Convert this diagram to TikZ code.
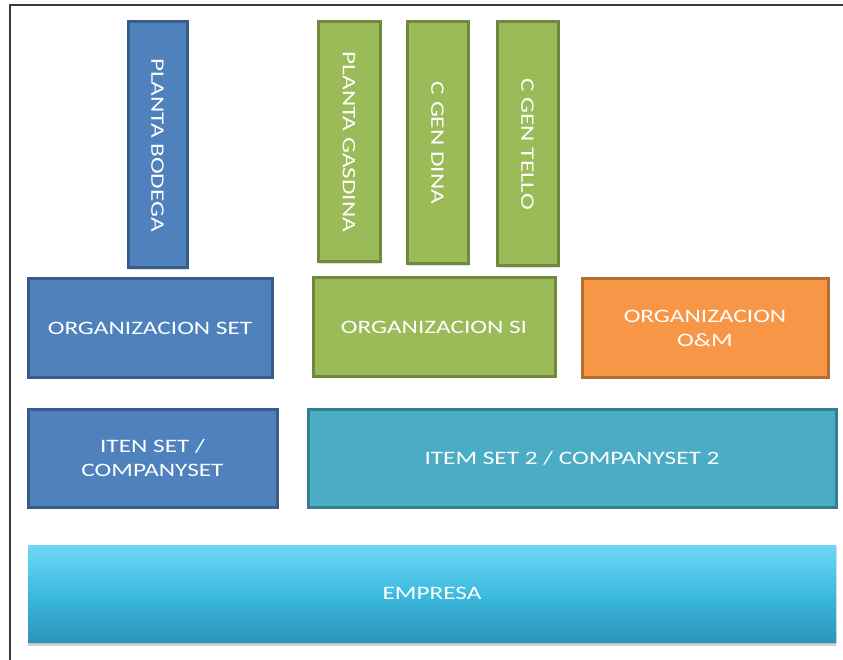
\documentclass[tikz,border=0pt]{standalone}
\usepackage{fontspec}
\setmainfont{Carlito}
\newfontfamily\boxfont[FakeStretch=1.33]{Carlito}
\usetikzlibrary{shadows}
\definecolor{blueF}{HTML}{4F81BD}
\definecolor{blueD}{HTML}{385D8A}
\definecolor{greenF}{HTML}{9BBB59}
\definecolor{greenD}{HTML}{71893F}
\definecolor{orangeF}{HTML}{F79646}
\definecolor{orangeD}{HTML}{B66D31}
\definecolor{tealF}{HTML}{4BACC6}
\definecolor{tealD}{HTML}{357D91}
\definecolor{skyT}{HTML}{6ED8F5}
\definecolor{skyM}{HTML}{3CBBE0}
\definecolor{skyB}{HTML}{2C93B8}
\definecolor{frameC}{HTML}{3A3A3A}
\tikzset{
  blk/.style={rectangle, line width=3pt, text=white, align=center,
    font=\boxfont\fontsize{19}{24}\selectfont, inner sep=0pt,
    drop shadow={shadow xshift=1pt, shadow yshift=-2pt, opacity=0.25}},
  bluebox/.style={blk, fill=blueF, draw=blueD},
  greenbox/.style={blk, fill=greenF, draw=greenD},
  orangebox/.style={blk, fill=orangeF, draw=orangeD},
  tealbox/.style={blk, fill=tealF, draw=tealD},
  basebox/.style={blk, draw=none, top color=skyT, bottom color=skyB, middle color=skyM,
    drop shadow={shadow xshift=0pt, shadow yshift=-4pt, opacity=0.35}},
  vtext/.style={rotate=-90},
}
\begin{document}
\begin{tikzpicture}[x=1pt, y=-1pt]
\useasboundingbox (0,0) rectangle (843,660);
\fill[white] (0,0) rectangle (843,660);
% frame
\draw[frameC, line width=2pt] (10,660) -- (10,5) -- (843,5);

% upper vertical blocks
\node[bluebox, minimum width=246pt, minimum height=59pt, vtext] (bodega) at (157.5,145) {PLANTA BODEGA};
\node[greenbox, minimum width=240pt, minimum height=62pt, vtext] (gasdina) at (349,142) {PLANTA GASDINA};
\node[greenbox, minimum width=242pt, minimum height=61pt, vtext] (dina) at (437.5,143) {C GEN DINA};
\node[greenbox, minimum width=244pt, minimum height=61pt, vtext] (tello) at (527.5,144) {C GEN TELLO};

% organizations
\node[bluebox, minimum width=244pt, minimum height=98pt] (orgset) at (150,328) {ORGANIZACION SET};
\node[greenbox, minimum width=242pt, minimum height=98pt] (orgsi) at (434,327) {ORGANIZACION SI};
\node[orangebox, minimum width=246pt, minimum height=98pt] (orgom) at (705,328) {ORGANIZACION\\O\&M};

% item sets
\node[bluebox, minimum width=249pt, minimum height=98pt] (itenset) at (152.5,458) {ITEN SET /\\COMPANYSET};
\node[tealbox, minimum width=528pt, minimum height=98pt] (itemset2) at (572,458) {ITEM SET 2 / COMPANYSET 2};

% base
\node[basebox, minimum width=808pt, minimum height=97pt] (empresa) at (432,593.5) {EMPRESA};
\end{tikzpicture}
\end{document}
